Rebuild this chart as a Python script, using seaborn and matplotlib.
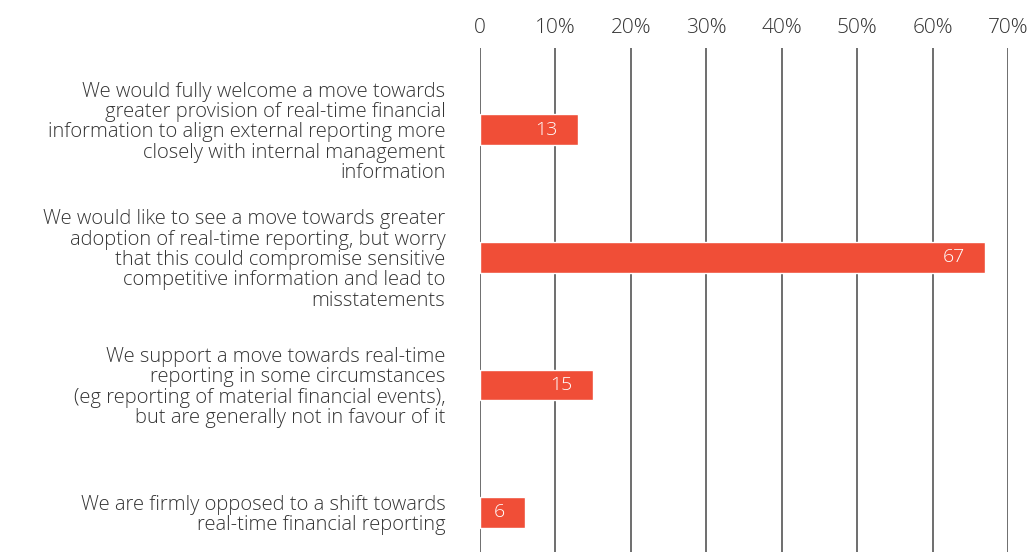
import numpy as np
import pandas as pd
import seaborn as sns
import matplotlib.pyplot as plt
from matplotlib.ticker import FuncFormatter

# Survey answers and share of respondents (%)
answers = [
    "We would fully welcome a move towards\ngreater provision of real-time financial\n"
    "information to align external reporting more\nclosely with internal management\ninformation",
    "We would like to see a move towards greater\nadoption of real-time reporting, but worry\n"
    "that this could compromise sensitive\ncompetitive information and lead to\nmisstatements",
    "We support a move towards real-time\nreporting in some circumstances\n"
    "(eg reporting of material financial events),\nbut are generally not in favour of it",
    "We are firmly opposed to a shift towards\nreal-time financial reporting",
]
shares = [13, 67, 15, 6]
x_ticks = [0, 10, 20, 30, 40, 50, 60, 70]

BAR = "#F04E37"
TEXT = "#333333"


def main():
    sns.set_theme(style="white")
    plt.rcParams["font.family"] = ["Open Sans", "DejaVu Sans"]

    df = pd.DataFrame({"answer": answers, "share": shares})

    fig = plt.figure(figsize=(10.3, 5.52), dpi=100)
    ax = fig.add_axes([480 / 1030, 0, 528 / 1030, 1 - 48 / 552])

    sns.barplot(data=df, x="share", y="answer", orient="h", color=BAR,
                saturation=1, width=0.24, ax=ax)

    ax.set_xlim(0, 70)
    ax.set_ylim(3.31, -0.64)
    ax.set_xticks(x_ticks)
    ax.xaxis.set_major_formatter(FuncFormatter(lambda v, _: "0" if v == 0 else f"{v:.0f}%"))
    ax.xaxis.tick_top()
    ax.tick_params(axis="x", length=0, pad=7, labelsize=15, labelcolor=TEXT)
    ax.tick_params(axis="y", length=0, pad=25, labelsize=14.5, labelcolor=TEXT)
    for lbl in ax.get_xticklabels() + ax.get_yticklabels():
        lbl.set_fontweight(300)
    for lbl in ax.get_yticklabels():
        lbl.set_linespacing(1.02)
        lbl.set_horizontalalignment("right")

    ax.grid(axis="x", color="#555555", linewidth=1.2)
    ax.set_axisbelow(True)
    sns.despine(ax=ax, left=True, bottom=True, top=True, right=True)
    ax.set_xlabel("")
    ax.set_ylabel("")

    for i, v in enumerate(shares):
        ax.annotate(str(v), xy=(v, i), xytext=(-15, 0), textcoords="offset points",
                    ha="right", va="center", color="white", fontsize=14,
                    fontweight=300)

    fig.savefig("out.png", dpi=100)


if __name__ == "__main__":
    main()
